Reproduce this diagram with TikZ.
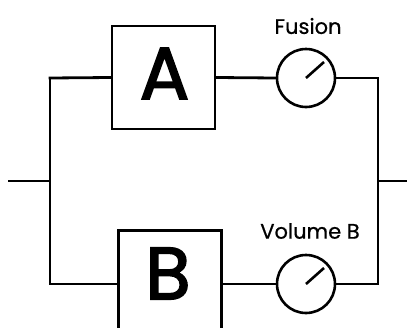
\documentclass[tikz,border=0pt]{standalone}
\usepackage{fontspec}
\setmainfont{Poppins}
\newfontfamily\letterfont[FakeBold=2.2]{Poppins}
\newfontfamily\labelfont[FakeBold=0.6]{Poppins}
\begin{document}
\begin{tikzpicture}[x=1pt,y=-1pt,
  wire/.style={line width=2.8pt, line cap=rect},
  blockbox/.style={draw, line width=2.8pt, minimum width=103pt, minimum height=103pt, inner sep=0pt},
  bigletter/.style={font=\fontsize{74}{74}\letterfont, inner sep=0pt},
  meter/.style={draw, circle, line width=2.6pt, minimum size=58pt, inner sep=0pt},
  needle/.style={line width=2.6pt},
  lbl/.style={font=\fontsize{21}{21}\labelfont, inner sep=0pt}]
\useasboundingbox (0,0) rectangle (407,327);
\clip (0,0) rectangle (407,327);
\node[blockbox] (A) at (163.5,77.5) {};
\node[bigletter] (TA) at (164.5,73.5) {A};
\node[blockbox, anchor=north west] (B) at (117,229) {};
\node[bigletter] (TB) at (168,273.5) {B};
\node[meter] (M1) at (306,78) {};
\node[meter] (M2) at (306,284) {};
\node[lbl] (L1) at (308,26) {Fusion};
\node[lbl] (L2) at (310,231) {Volume B};
\coordinate (inL) at (9,181);
\coordinate (jL) at (50,181);
\coordinate (tl) at (50,78);
\coordinate (bl) at (50,284);
\coordinate (tr) at (378,78);
\coordinate (br) at (378,284);
\coordinate (jR) at (378,181);
\coordinate (outR) at (407,181);
\draw[wire] (inL) -- (jL);
\draw[wire] (tl) -- (bl);
\draw[wire] (tl) -- (A.west);
\draw[wire] (bl) -- (B.west |- bl);
\draw[wire] (A.east) -- (M1.west);
\draw[wire] (B.east |- bl) -- (M2.west);
\draw[wire] (M1.east) -- (tr) -- (br) -- (M2.east);
\draw[wire, line cap=butt] (jR) -- (outR);
\draw[needle] (M1.center) -- +(18,-16);
\draw[needle] (M2.center) -- +(18,-16);
\end{tikzpicture}
\end{document}
